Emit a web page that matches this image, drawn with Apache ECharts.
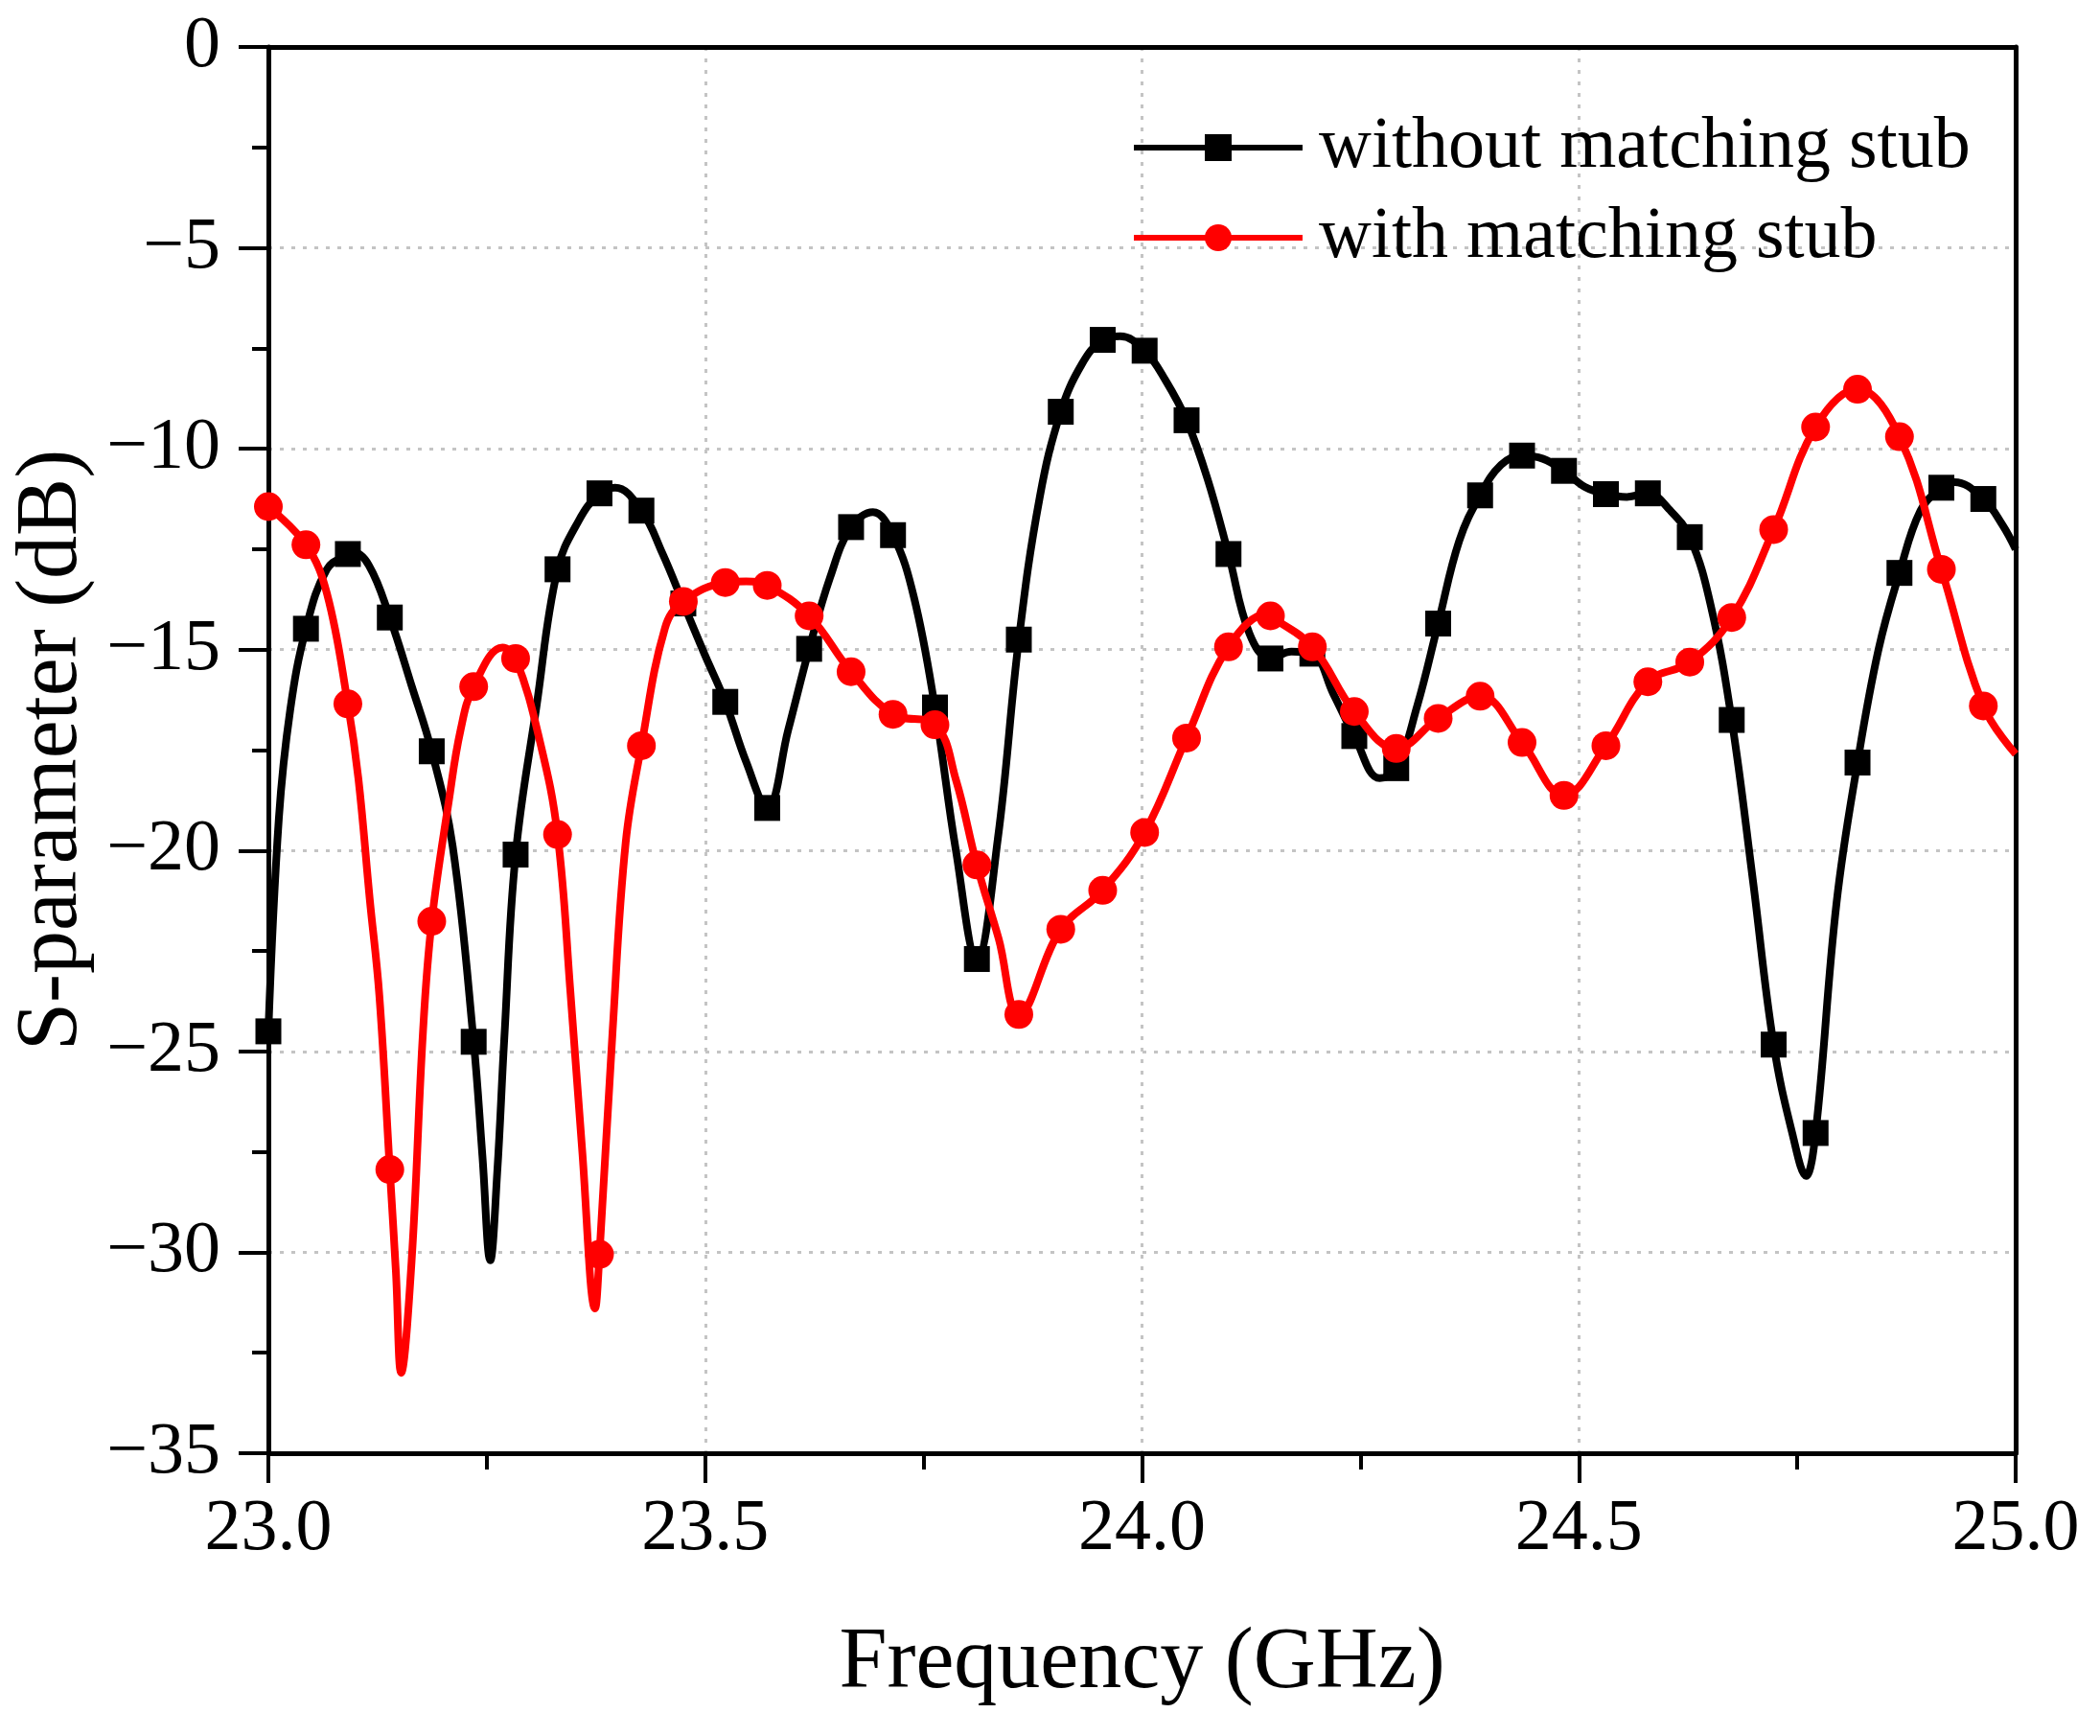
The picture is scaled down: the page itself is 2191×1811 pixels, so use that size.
<!DOCTYPE html>
<html>
<head>
<meta charset="utf-8">
<script src="https://cdn.jsdelivr.net/npm/echarts@6/dist/echarts.min.js"></script>
<style>
html,body{margin:0;padding:0;background:#fff;}
#chart{width:2191px;height:1811px;}
</style>
</head>
<body>
<div id="chart"></div>
<script>
// Frequency (GHz) / S-parameter (dB) readings
const seriesNames = ['without matching stub', 'with matching stub'];

// points carrying a marker (every symbol drawn in the reference)
const blackMarkers = [
  [23.000,-24.5],[23.043,-14.48],[23.091,-12.62],[23.139,-14.2],[23.187,-17.53],[23.235,-24.76],
  [23.283,-20.1],[23.331,-13.0],[23.379,-11.11],[23.427,-11.54],[23.475,-13.85],[23.523,-16.3],
  [23.571,-18.94],[23.619,-14.98],[23.667,-11.95],[23.715,-12.15],[23.763,-16.44],[23.811,-22.7],
  [23.859,-14.75],[23.907,-9.08],[23.955,-7.29],[24.003,-7.56],[24.051,-9.29],[24.099,-12.62],
  [24.147,-15.22],[24.195,-15.1],[24.243,-17.15],[24.291,-17.95],[24.339,-14.35],[24.387,-11.16],
  [24.435,-10.17],[24.483,-10.55],[24.531,-11.13],[24.579,-11.11],[24.627,-12.2],[24.675,-16.75],
  [24.723,-24.83],[24.771,-27.03],[24.819,-17.81],[24.867,-13.09],[24.915,-10.97],[24.963,-11.25]
];
// extra curve readings between markers (no symbol)
const blackCurve = [
  [23.012,-19.2],[23.025,-16.5],[23.067,-13.0],[23.096,-12.57],[23.115,-12.9],[23.164,-15.9],
  [23.211,-19.9],[23.245,-27.6],[23.254,-30.2],[23.262,-28.0],[23.270,-24.7],[23.307,-16.4],
  [23.355,-11.8],[23.397,-10.97],[23.451,-12.6],[23.499,-15.1],[23.547,-17.8],[23.595,-17.0],
  [23.643,-13.2],[23.692,-11.58],[23.739,-13.7],[23.787,-20.0],[23.835,-19.7],[23.883,-11.2],
  [23.931,-7.9],[23.975,-7.2],[24.027,-8.3],[24.075,-10.75],[24.123,-14.6],[24.171,-15.05],
  [24.219,-16.1],[24.272,-18.2],[24.315,-16.4],[24.363,-12.3],[24.411,-10.4],[24.459,-10.25],
  [24.507,-10.95],[24.555,-11.2],[24.603,-11.5],[24.651,-13.9],[24.699,-20.7],[24.745,-27.1],
  [24.760,-28.1],[24.795,-21.3],[24.843,-15.0],[24.891,-11.54],[24.930,-10.83],[24.985,-11.9],
  [25.000,-12.5]
];

const redMarkers = [
  [23.000,-11.44],[23.043,-12.39],[23.091,-16.35],[23.139,-27.94],[23.187,-21.76],[23.235,-15.92],
  [23.283,-15.22],[23.331,-19.6],[23.379,-30.05],[23.427,-17.39],[23.475,-13.8],[23.523,-13.33],
  [23.571,-13.4],[23.619,-14.16],[23.667,-15.55],[23.715,-16.61],[23.763,-16.87],[23.811,-20.36],
  [23.859,-24.08],[23.907,-21.96],[23.955,-20.99],[24.003,-19.55],[24.051,-17.2],[24.099,-14.93],
  [24.147,-14.16],[24.195,-14.93],[24.243,-16.54],[24.291,-17.46],[24.339,-16.71],[24.387,-16.16],
  [24.435,-17.31],[24.483,-18.63],[24.531,-17.39],[24.579,-15.8],[24.627,-15.31],[24.675,-14.2],
  [24.723,-12.01],[24.771,-9.46],[24.819,-8.52],[24.867,-9.7],[24.915,-13.0],[24.963,-16.4]
];
const redCurve = [
  [23.067,-13.6],[23.103,-18.2],[23.116,-21.2],[23.127,-23.6],[23.146,-30.5],[23.152,-33.0],
  [23.164,-30.2],[23.177,-24.5],[23.207,-18.7],[23.220,-17.0],[23.268,-14.95],[23.311,-17.3],
  [23.346,-23.6],[23.359,-27.4],[23.374,-31.4],[23.394,-24.5],[23.409,-19.8],[23.454,-14.46],
  [23.547,-13.3],[23.787,-18.24],[23.836,-22.2],[24.145,-14.1],[25.000,-17.6]
];

const xTicks = {min: 23, max: 25, step: 0.5};
const yTicks = {min: -35, max: 0, step: 5};

function build(markers, curve) {
  const pts = markers.map(p => ({value: p}))
    .concat(curve.map(p => ({value: p, symbol: 'none'})));
  pts.sort((a, b) => a.value[0] - b.value[0]);
  return pts;
}

const FONT = '"Liberation Serif", "Times New Roman", serif';
const LEGEND_LINE_W = 6;
const SERIES_LINE_W = 8;
const chart = echarts.init(document.getElementById('chart'), null, {renderer: 'canvas'});

const legendBase = {
  orient: 'horizontal', padding: 0, itemWidth: 176, itemHeight: 35,
  lineStyle: {width: LEGEND_LINE_W},
  textStyle: {fontFamily: FONT, fontSize: 76, color: '#000', lineHeight: 76, padding: [0, 0, 0, 12]}
};

const frameAxis = {
  axisLine: {show: true, onZero: false, lineStyle: {color: '#000', width: 5}},
  axisTick: {show: false}, axisLabel: {show: false}, splitLine: {show: false}
};

chart.setOption({
  backgroundColor: '#fff',
  animation: false,
  grid: {left: 280, right: 88, top: 49, bottom: 295},
  legend: [
    Object.assign({}, legendBase, {data: [seriesNames[0]], left: 1180, top: 116}),
    Object.assign({}, legendBase, {data: [seriesNames[1]], left: 1180, top: 210})
  ],
  xAxis: [{
    type: 'value', min: xTicks.min, max: xTicks.max, interval: xTicks.step, position: 'bottom',
    name: 'Frequency (GHz)', nameLocation: 'middle', nameGap: 175,
    nameTextStyle: {fontFamily: FONT, fontSize: 90, color: '#000'},
    axisLine: {show: true, onZero: false, lineStyle: {color: '#000', width: 5}},
    axisTick: {show: true, inside: false, length: 31, lineStyle: {color: '#000', width: 4}},
    minorTick: {show: true, splitNumber: 2, length: 17, lineStyle: {color: '#000', width: 4}},
    axisLabel: {fontFamily: FONT, fontSize: 76, color: '#000', margin: 42, formatter: v => v.toFixed(1)},
    splitLine: {show: true, lineStyle: {color: '#c4c4c4', width: 3, type: [4, 8]}}
  }, Object.assign({type: 'value', min: xTicks.min, max: xTicks.max, interval: xTicks.step, position: 'top'}, frameAxis)],
  yAxis: [{
    type: 'value', min: yTicks.min, max: yTicks.max, interval: yTicks.step, position: 'left',
    name: 'S-parameter (dB)', nameLocation: 'middle', nameGap: 158,
    nameTextStyle: {fontFamily: FONT, fontSize: 90, color: '#000'},
    axisLine: {show: true, onZero: false, lineStyle: {color: '#000', width: 5}},
    axisTick: {show: true, inside: false, length: 31, lineStyle: {color: '#000', width: 4}},
    minorTick: {show: true, splitNumber: 2, length: 17, lineStyle: {color: '#000', width: 4}},
    axisLabel: {fontFamily: FONT, fontSize: 76, color: '#000', margin: 50,
      formatter: v => v === 0 ? '0' : (v < 0 ? '\u2212' + Math.abs(v) : String(v))},
    splitLine: {show: true, lineStyle: {color: '#c4c4c4', width: 3, type: [4, 8]}}
  }, Object.assign({type: 'value', min: yTicks.min, max: yTicks.max, interval: yTicks.step, position: 'right'}, frameAxis)],
  series: [
    {
      name: seriesNames[0], type: 'line', data: build(blackMarkers, blackCurve),
      xAxisIndex: 0, yAxisIndex: 0,
      smooth: 0.4, symbol: 'rect', symbolSize: 27, showAllSymbol: true,
      lineStyle: {color: '#000', width: SERIES_LINE_W}, itemStyle: {color: '#000'}, z: 2
    },
    {
      name: seriesNames[1], type: 'line', data: build(redMarkers, redCurve),
      xAxisIndex: 0, yAxisIndex: 0,
      smooth: 0.4, symbol: 'circle', symbolSize: 30, showAllSymbol: true,
      lineStyle: {color: '#ff0000', width: SERIES_LINE_W}, itemStyle: {color: '#ff0000'}, z: 3
    }
  ]
});
</script>
</body>
</html>
